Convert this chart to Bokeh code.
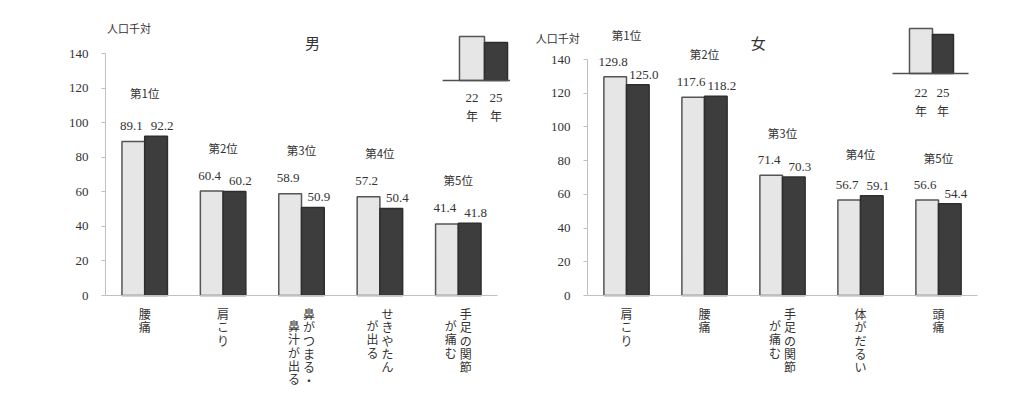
import numpy as np
from bokeh.plotting import figure
from bokeh.models import ColumnDataSource, Range1d, FixedTicker, LinearAxis
from bokeh.core.properties import value
from bokeh.transform import dodge
from bokeh.embed import file_html
from bokeh.resources import INLINE

# ---------------- data ----------------
legend_labels = ["22年", "25年"]
ranks = ["第1位", "第2位", "第3位", "第4位", "第5位"]
y_ticks = [0, 20, 40, 60, 80, 100, 120, 140]
unit_label = "人口千対"

male_title = "男"
male_categories = [["腰痛"], ["肩こり"], ["鼻がつまる・", "鼻汁が出る"], ["せきやたん", "が出る"], ["手足の関節", "が痛む"]]
male_22 = [89.1, 60.4, 58.9, 57.2, 41.4]
male_25 = [92.2, 60.2, 50.9, 50.4, 41.8]

female_title = "女"
female_categories = [["肩こり"], ["腰痛"], ["手足の関節", "が痛む"], ["体がだるい"], ["頭痛"]]
female_22 = [129.8, 117.6, 71.4, 56.7, 56.6]
female_25 = [125.0, 118.2, 70.3, 59.1, 54.4]

# ---------------- layout (canvas pixels) ----------------
W, H = 1012, 392
BL, BT = 105, 8
FX0, FX1 = BL, W
FY0, FY1 = BT, H

LIGHT = "#e6e6e6"
DARK = "#3d3d3d"
EDGE = "#555555"
AXIS = "#c0c0c0"
TXT = "#333333"
JP = "Noto Sans CJK JP"
NUM = "Liberation Serif"
BAR_W = 0.29


def ranges(ax0, ax5, ay0, ay140):
    ppx = (ax5 - ax0) / 5.0
    ppu = (ay0 - ay140) / 140.0
    xr = Range1d((FX0 - ax0) / ppx, (FX1 - ax0) / ppx)
    yr = Range1d(-(FY1 - ay0) / ppu, (ay0 - FY0) / ppu)
    return xr, yr, ppx, ppu


lx, ly, lppx, lppu = ranges(105, 497, 295, 53)
rx, ry, rppx, rppu = ranges(587, 977, 295, 59)

p = figure(width=W, height=H, x_range=lx, y_range=ly,
           min_border_left=BL, min_border_right=0, min_border_top=BT, min_border_bottom=0,
           output_backend="svg", toolbar_location=None, outline_line_color=None,
           background_fill_color="white", border_fill_color="white")
p.extra_x_ranges = {"r": rx}
p.extra_y_ranges = {"r": ry}
p.xgrid.visible = False
p.ygrid.visible = False


def style_y(ax):
    ax.ticker = FixedTicker(ticks=y_ticks)
    ax.bounds = (0, 140)
    ax.axis_line_color = AXIS
    ax.major_tick_line_color = AXIS
    ax.major_tick_out = 4
    ax.major_tick_in = 0
    ax.minor_tick_line_color = None
    ax.major_label_standoff = 13
    ax.major_label_text_font = NUM
    ax.major_label_text_font_size = "13px"
    ax.major_label_text_color = TXT


def style_x(ax, n):
    ax.ticker = FixedTicker(ticks=[])
    ax.bounds = (0, n)
    ax.fixed_location = 0
    ax.axis_line_color = AXIS
    ax.axis_line_width = 1.2
    ax.major_tick_line_color = None
    ax.minor_tick_line_color = None
    ax.major_tick_out = 0
    ax.major_label_standoff = 0
    ax.major_label_text_font_size = "0px"


# left chart: ordinary axis at the frame edge
style_y(p.yaxis[0])
style_x(p.xaxis[0], 5)
# right chart: axis pinned at its own x = 0
ry_axis = LinearAxis(x_range_name="r", y_range_name="r")
style_y(ry_axis)
ry_axis.fixed_location = 0
p.add_layout(ry_axis, "left")
rx_axis = LinearAxis(x_range_name="r", y_range_name="r")
style_x(rx_axis, 5)
p.add_layout(rx_axis, "below")


def panel(rn, ppx, ppu, cats, v22, v25, title, title_xy, unit_xy, leg):
    kw = {} if rn is None else dict(x_range_name=rn, y_range_name=rn)
    n = len(cats)
    centers = np.arange(n) + 0.5
    v22 = np.array(v22)
    v25 = np.array(v25)
    src = ColumnDataSource(dict(
        x=centers, h22=v22, h25=v25,
        t22=[f"{v:.1f}" for v in v22], t25=[f"{v:.1f}" for v in v25],
        y22=v22 + 9, y25=v25 + 6,
        rank=ranks[:n], ry=np.maximum(v22, v25) + 25,
    ))
    half = BAR_W / 2
    p.vbar(x=dodge("x", -half), top="h22", width=BAR_W, source=src,
           fill_color=LIGHT, line_color=EDGE, line_width=1.5, **kw)
    p.vbar(x=dodge("x", half), top="h25", width=BAR_W, source=src,
           fill_color=DARK, line_color="#2e2e2e", line_width=1.5, **kw)
    p.text(x=dodge("x", -half - 2 / ppx), y="y22", text="t22", source=src,
           text_font=value(NUM), text_font_size="13px", text_color=TXT,
           text_align="center", text_baseline="middle", **kw)
    p.text(x=dodge("x", half + 6 / ppx), y="y25", text="t25", source=src,
           text_font=value(NUM), text_font_size="13px", text_color=TXT,
           text_align="center", text_baseline="middle", **kw)
    p.text(x="x", y="ry", text="rank", source=src,
           text_font=value(JP), text_font_size="11.5px", text_color=TXT,
           text_align="center", text_baseline="middle", **kw)

    # vertical category labels (columns read right-to-left)
    cx, cy, ct = [], [], []
    step = 13.3
    for i, cols in enumerate(cats):
        if len(cols) == 1:
            offs, drops = [0.0], [0.0]
        else:
            offs, drops = [7.5, -7.5], [0.0, 12.0]
        for col, off, drop in zip(cols, offs, drops):
            for k, ch in enumerate(col):
                cx.append(centers[i] + off / ppx)
                cy.append(-(18 + drop + k * step) / ppu)
                ct.append(ch)
    p.text(x="x", y="y", text="t", source=ColumnDataSource(dict(x=cx, y=cy, t=ct)),
           text_font=value(JP), text_font_size="12px", text_color=TXT,
           text_align="center", text_baseline="middle", **kw)

    # title and unit
    p.text(x=[title_xy[0]], y=[title_xy[1]], text=[title], text_font=value(JP), text_font_size="15px",
           text_color=TXT, text_align="center", text_baseline="middle", **kw)
    p.text(x=[unit_xy[0]], y=[unit_xy[1]], text=[unit_label], text_font=value(JP), text_font_size="11px",
           text_color=TXT, text_align="left", text_baseline="middle", **kw)

    # legend (mini bars on a base line)
    lx0, lx1, lx2, top_l, top_d, base, bl0, bl1, lyy = leg
    lsrc = ColumnDataSource(dict(left=[lx0, lx1], right=[lx1, lx2], top=[top_l, top_d], bottom=[base, base],
                                 color=[LIGHT, DARK], line=[EDGE, "#2e2e2e"]))
    p.quad(left="left", right="right", top="top", bottom="bottom", source=lsrc,
           fill_color="color", line_color="line", line_width=1.5, **kw)
    p.segment(x0=[bl0], y0=[base], x1=[bl1], y1=[base], line_color="#505050", line_width=1.5, **kw)
    tx = [(lx0 + lx1) / 2, (lx1 + lx2) / 2]
    p.text(x=tx, y=[lyy, lyy], text=[s[:-1] for s in legend_labels],
           text_font=value(NUM), text_font_size="13px", text_color=TXT,
           text_align="center", text_baseline="middle", **kw)
    p.text(x=tx, y=[lyy - 18 / ppu] * 2, text=[s[-1] for s in legend_labels],
           text_font=value(JP), text_font_size="12px", text_color=TXT,
           text_align="center", text_baseline="middle", **kw)


panel(None, lppx, lppu, male_categories, male_22, male_25, male_title,
      (2.64, 146.4), (0.02, 154.5),
      (4.515, 4.834, 5.128, 149.8, 146.4, 124.4, 4.30, 5.16, 114.5))
panel("r", rppx, rppu, female_categories, female_22, female_25, female_title,
      (2.19, 150.0), (-0.665, 153.0),
      (4.128, 4.423, 4.692, 158.4, 154.8, 131.7, 3.91, 4.885, 120.4))

open("out.html", "w").write(file_html(p, INLINE))
